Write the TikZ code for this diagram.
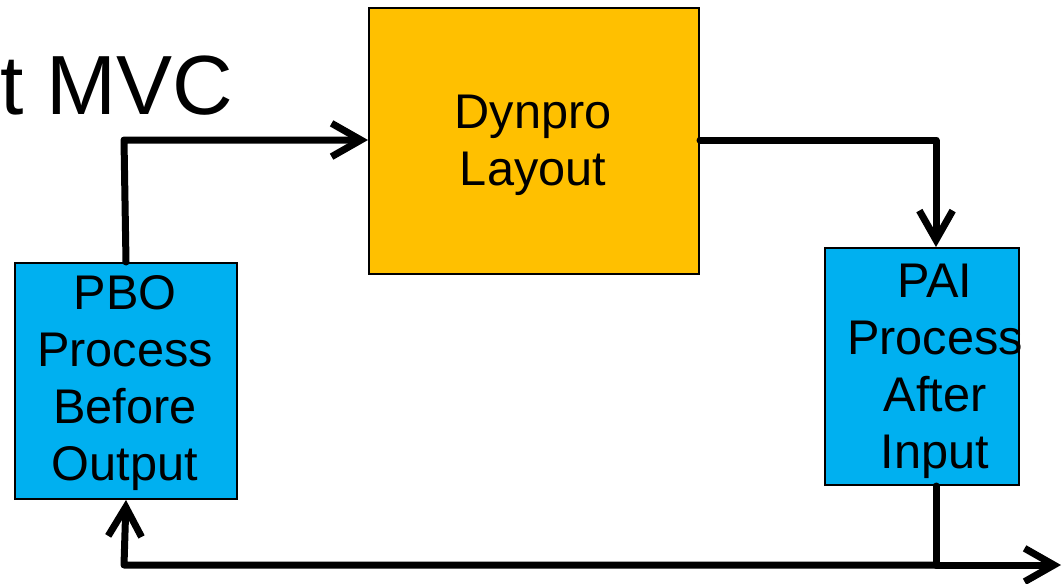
\documentclass[tikz,border=0pt]{standalone}
\usepackage{fontspec}
\setmainfont{Liberation Sans}
\usetikzlibrary{arrows.meta}
\definecolor{boxgold}{HTML}{FFC000}
\definecolor{boxblue}{HTML}{00B0F0}
\tikzset{
  blk/.style={draw=black, line width=1.5pt, inner sep=0pt},
  lbl/.style={align=center, inner sep=0pt, font=\fontsize{36.5}{42.75}\selectfont},
  conn/.style={line width=5.25pt, line cap=round, line join=round,
    -{Straight Barb[length=22pt,width=25pt]}},
  plain/.style={line width=5.25pt, line cap=round, line join=round}
}
\begin{document}
\begin{tikzpicture}[x=0.75pt,y=-0.75pt]
\useasboundingbox (0,0) rectangle (1063,583);
\node[anchor=base west, inner sep=0pt, font=\fontsize{63}{70}\selectfont] (title) at (0,114) {t MVC};
\node[blk, fill=boxgold, minimum width=330*0.75pt, minimum height=266*0.75pt, anchor=north west] (dyn) at (368,7) {};
\node[lbl] (dyntext) at (533,145) {Dynpro\\Layout};
\node[blk, fill=boxblue, minimum width=222*0.75pt, minimum height=236*0.75pt, anchor=north west] (pbo) at (14,262) {};
\node[lbl] (pbotext) at (125,383) {PBO\\Process\\Before\\Output};
\node[blk, fill=boxblue, minimum width=194*0.75pt, minimum height=237*0.75pt, anchor=north west] (pai) at (824,247) {};
\node[lbl] (paitext) at (935,371) {PAI\\Process\\After\\Input};
\coordinate (c1) at (124,140);
\coordinate (c2) at (936,140);
\coordinate (c3) at (936,565);
\coordinate (c4) at (124,565);
\coordinate (out) at (1061,565);
\draw[conn] (pbo.north) -- (c1) -- (dyn.west |- c1);
\draw[conn] (dyn.east |- c2) -- (c2) -- (pai.north -| c2);
\draw[plain] (pai.south -| c3) -- (c3);
\draw[conn] (c3) -- (c4) -- (pbo.south);
\draw[conn] (c3) -- (out);
\end{tikzpicture}
\end{document}
